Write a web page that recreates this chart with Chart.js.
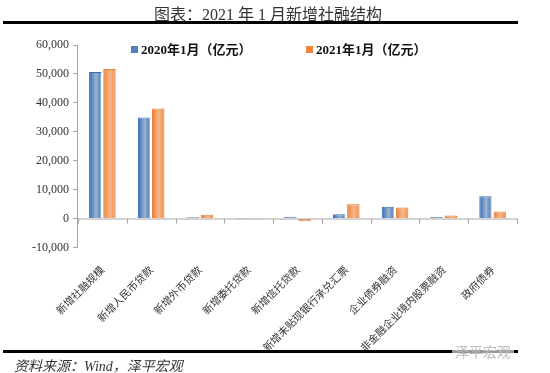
<!DOCTYPE html>
<html>
<head>
<meta charset="utf-8">
<script src="https://cdn.jsdelivr.net/npm/chart.js@4/dist/chart.umd.min.js"></script>
<style>
  html, body { margin: 0; padding: 0; background: #fff; }
  #wrap { position: relative; width: 550px; height: 373px; overflow: hidden; }
  #chart { position: absolute; left: 0; top: 0; }
  .title { position: absolute; left: 0; top: 1px; width: 536px; text-align: center;
           font: 16px "Liberation Serif", "Noto Sans CJK SC", serif; color: #333; }
  .rule { position: absolute; left: 3px; width: 515px; height: 3px; background: #000; }
  .source { position: absolute; left: 14px; top: 355px; font: italic 14px "Liberation Serif", "Noto Sans CJK SC", serif; color: #333; }
  .mark { position: absolute; left: 452px; top: 341px; font: 14px "Noto Sans CJK SC", sans-serif; color: #bbb; background: rgba(255,255,255,0.6); padding: 0 3px; }
  .legend { position: absolute; top: 39px; font: bold 13px "Liberation Serif", "Noto Sans CJK SC", serif; color: #111; white-space: nowrap; }
  .legend i { display: inline-block; width: 7px; height: 7px; margin-right: 3px; vertical-align: 1px; }
</style>
</head>
<body>
<div id="wrap">
  <canvas id="chart" width="550" height="373"></canvas>
  <div class="title">图表：2021 年 1 月新增社融结构</div>
  <div class="rule" style="top:21px"></div>
  <div class="rule" style="top:350px"></div>
  <div class="mark">泽平宏观</div>
  <div class="source">资料来源：Wind，泽平宏观</div>
  <div id="legend"></div>
</div>
<script>
// ─── Data ────────────────────────────────────────────────────────────
const categories = ['新增社融规模', '新增人民币贷款', '新增外币贷款', '新增委托贷款', '新增信托贷款',
                    '新增未贴现银行承兑汇票', '企业债券融资', '非金融企业境内股票融资', '政府债券'];
const jan2020 = [50668, 34900, 411, -30, 600, 1500, 4040, 500, 7737];
const jan2021 = [51700, 38000, 1277, -40, -960, 4970, 3780, 1000, 2437];
const seriesNames = ['2020年1月（亿元）', '2021年1月（亿元）'];
const seriesColors = ['#4f82bd', '#f0853c'];

const CAT_PCT = 0.58, BAR_PCT = 0.88;

// ─── Legend (html, sits inside the plot like the original) ───────────
const legendX = [131, 306];
document.getElementById('legend').innerHTML = seriesNames.map((n, i) =>
    `<div class="legend" style="left:${legendX[i]}px"><i style="background:${seriesColors[i]}"></i>${n}</div>`
).join('');

// horizontal shading on each bar, worked out from the category scale
function barShade(stops, side) {
    return (ctx) => {
        const chart = ctx.chart;
        const x = chart.scales.x;
        if (!x || ctx.type !== 'data' || x.width === undefined) return stops[2];
        const catW = x.width / categories.length;
        const cx = x.getPixelForValue(ctx.dataIndex) + side * catW * CAT_PCT / 4;
        const w = catW * CAT_PCT / 2 * BAR_PCT;
        const g = chart.ctx.createLinearGradient(cx - w / 2, 0, cx + w / 2, 0);
        g.addColorStop(0, stops[0]);
        g.addColorStop(0.25, stops[1]);
        g.addColorStop(0.55, stops[2]);
        g.addColorStop(0.85, stops[1]);
        g.addColorStop(1, stops[3]);
        return g;
    };
}

// zero line + small category ticks hanging from it
const zeroLine = {
    id: 'zeroLine',
    afterDatasetsDraw(chart) {
        const { ctx, scales: { x, y }, chartArea } = chart;
        const y0 = y.getPixelForValue(0);
        ctx.save();
        ctx.strokeStyle = '#a6a6a6';
        ctx.lineWidth = 1;
        ctx.beginPath();
        ctx.moveTo(chartArea.left, y0 + 0.5);
        ctx.lineTo(chartArea.right, y0 + 0.5);
        const catW = x.width / categories.length;
        for (let i = 0; i <= categories.length; i++) {
            const px = Math.round(x.left + i * catW) + 0.5;
            ctx.moveTo(px, y0);
            ctx.lineTo(px, y0 + 5);
        }
        ctx.stroke();
        ctx.restore();
    }
};

new Chart(document.getElementById('chart'), {
    type: 'bar',
    data: {
        labels: categories,
        datasets: [
            {
                label: seriesNames[0],
                data: jan2020,
                backgroundColor: barShade(['#2a6ab5', '#5f8cc3', '#9fb4cb', '#c9d8ea'], -1),
                borderColor: '#2f70b8',
                borderWidth: { left: 1, right: 0, top: 1, bottom: 0 },
                categoryPercentage: CAT_PCT,
                barPercentage: BAR_PCT
            },
            {
                label: seriesNames[1],
                data: jan2021,
                backgroundColor: barShade(['#ee7a2f', '#f29a5d', '#f6b78c', '#f08a45'], 1),
                borderColor: '#ed7d31',
                borderWidth: { left: 1, right: 1, top: 1, bottom: 0 },
                categoryPercentage: CAT_PCT,
                barPercentage: BAR_PCT
            }
        ]
    },
    options: {
        responsive: false,
        animation: false,
        layout: { padding: { top: 45, left: 28, right: 33, bottom: 11 } },
        plugins: {
            legend: { display: false },
            tooltip: { enabled: false }
        },
        scales: {
            x: {
                grid: { display: false },
                border: { display: false },
                ticks: {
                    minRotation: 45,
                    maxRotation: 45,
                    autoSkip: false,
                    padding: 8,
                    color: '#333',
                    font: { family: '"Noto Sans CJK SC", sans-serif', size: 10.5 }
                }
            },
            y: {
                min: -10000,
                max: 60000,
                grid: { drawOnChartArea: false, drawTicks: true, tickLength: 5, color: '#a6a6a6' },
                border: { display: true, color: '#a6a6a6' },
                ticks: {
                    stepSize: 10000,
                    padding: 4,
                    color: '#333',
                    font: { family: '"Liberation Serif", serif', size: 12 },
                    callback: v => v.toLocaleString('en-US')
                }
            }
        }
    },
    plugins: [zeroLine]
});
</script>
</body>
</html>
